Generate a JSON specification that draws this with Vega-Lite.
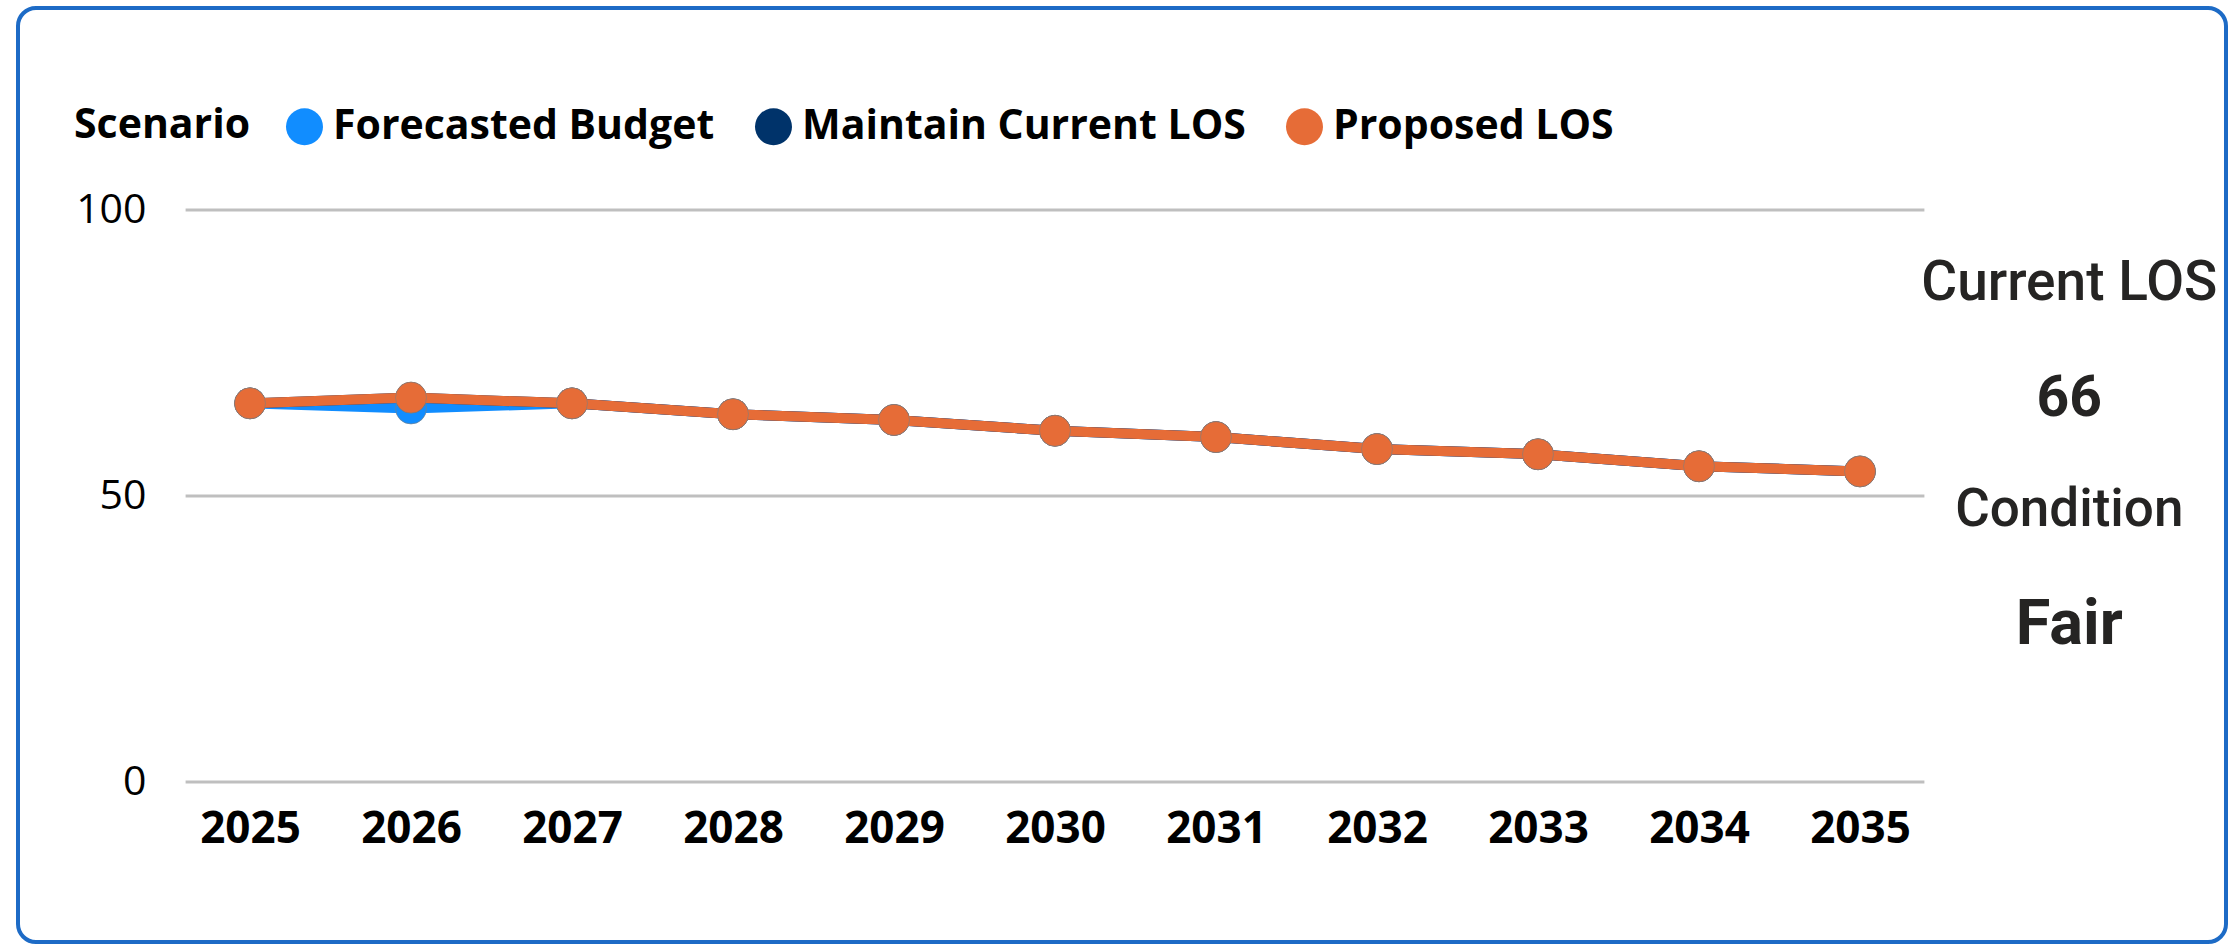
{
  "$schema": "https://vega.github.io/schema/vega-lite/v6.json",
  "width": 2208,
  "height": 934,
  "autosize": "none",
  "padding": {"left": 18, "top": 8, "right": 2, "bottom": 3},
  "background": "white",
  "config": {
    "view": {"stroke": "#1D6BC6", "strokeWidth": 4, "cornerRadius": 18}
  },
  "datasets": {
    "los": [
      {"year": 2025, "series": "Forecasted Budget", "value": 66.2},
      {"year": 2026, "series": "Forecasted Budget", "value": 65.3},
      {"year": 2027, "series": "Forecasted Budget", "value": 66.2},
      {"year": 2028, "series": "Forecasted Budget", "value": 64.3},
      {"year": 2029, "series": "Forecasted Budget", "value": 63.3},
      {"year": 2030, "series": "Forecasted Budget", "value": 61.4},
      {"year": 2031, "series": "Forecasted Budget", "value": 60.3},
      {"year": 2032, "series": "Forecasted Budget", "value": 58.2},
      {"year": 2033, "series": "Forecasted Budget", "value": 57.3},
      {"year": 2034, "series": "Forecasted Budget", "value": 55.2},
      {"year": 2035, "series": "Forecasted Budget", "value": 54.3},
      {"year": 2025, "series": "Maintain Current LOS", "value": 66.2},
      {"year": 2026, "series": "Maintain Current LOS", "value": 67.2},
      {"year": 2027, "series": "Maintain Current LOS", "value": 66.2},
      {"year": 2028, "series": "Maintain Current LOS", "value": 64.3},
      {"year": 2029, "series": "Maintain Current LOS", "value": 63.3},
      {"year": 2030, "series": "Maintain Current LOS", "value": 61.4},
      {"year": 2031, "series": "Maintain Current LOS", "value": 60.3},
      {"year": 2032, "series": "Maintain Current LOS", "value": 58.2},
      {"year": 2033, "series": "Maintain Current LOS", "value": 57.3},
      {"year": 2034, "series": "Maintain Current LOS", "value": 55.2},
      {"year": 2035, "series": "Maintain Current LOS", "value": 54.3},
      {"year": 2025, "series": "Proposed LOS", "value": 66.2},
      {"year": 2026, "series": "Proposed LOS", "value": 67.2},
      {"year": 2027, "series": "Proposed LOS", "value": 66.2},
      {"year": 2028, "series": "Proposed LOS", "value": 64.3},
      {"year": 2029, "series": "Proposed LOS", "value": 63.3},
      {"year": 2030, "series": "Proposed LOS", "value": 61.4},
      {"year": 2031, "series": "Proposed LOS", "value": 60.3},
      {"year": 2032, "series": "Proposed LOS", "value": 58.2},
      {"year": 2033, "series": "Proposed LOS", "value": 57.3},
      {"year": 2034, "series": "Proposed LOS", "value": 55.2},
      {"year": 2035, "series": "Proposed LOS", "value": 54.3}
    ],
    "grid": [{"v": 0}, {"v": 50}, {"v": 100}]
  },
  "data": {"name": "los"},
  "layer": [
    {
      "data": {"name": "grid"},
      "mark": {"type": "rule", "color": "#BFBFBF", "strokeWidth": 3},
      "encoding": {
        "y": {
          "field": "v", "type": "quantitative",
          "scale": {"domain": [0, 100], "range": [774, 202], "nice": false, "zero": false},
          "axis": {
            "values": [0, 50, 100], "title": null, "grid": false, "domain": false,
            "ticks": false, "tickSize": 0, "labelPadding": 0, "offset": -128,
            "labelFont": "Open Sans", "labelFontSize": 41, "labelColor": "#000000",
            "labelAlign": "right", "labelBaseline": "middle"
          }
        },
        "x": {"datum": 2024.6, "type": "quantitative", "title": null,
              "scale": {"domain": [2025, 2035], "range": [232, 1842], "nice": false, "zero": false}},
        "x2": {"datum": 2035.4}
      }
    },
    {
      "transform": [{"filter": "datum.series == 'Forecasted Budget'"}],
      "encoding": {
        "x": {"field": "year", "type": "quantitative", "title": null,
              "scale": {"domain": [2025, 2035], "range": [232, 1842], "nice": false, "zero": false},
              "axis": {
                "values": [2025, 2026, 2027, 2028, 2029, 2030, 2031, 2032, 2033, 2034, 2035],
                "format": "d", "title": null, "grid": false, "domain": false, "ticks": false,
                "tickSize": 0, "labelPadding": 0, "offset": -113, "labelBaseline": "middle",
                "labelFlush": false, "labelOverlap": false,
                "labelFont": "Open Sans", "labelFontSize": 44, "labelFontWeight": "bold", "labelColor": "#000000"
              }},
        "y": {"field": "value", "type": "quantitative"},
        "color": {
          "field": "series", "type": "nominal",
          "scale": {"domain": ["Forecasted Budget", "Maintain Current LOS", "Proposed LOS"],
                    "range": ["#118DFF", "#00336A", "#E66C37"]},
          "legend": {
            "title": "Scenario", "orient": "none", "legendX": 56, "legendY": 98,
            "direction": "horizontal", "titleOrient": "left", "titleLimit": 1000,
            "titleFont": "Open Sans", "titleFontSize": 41, "titleFontWeight": "bold", "titleColor": "#000000",
            "titlePadding": 33, "titleBaseline": "middle",
            "labelFont": "Open Sans", "labelFontSize": 41, "labelFontWeight": "bold", "labelColor": "#000000",
            "labelOffset": 8, "columnPadding": 38, "symbolType": "circle", "symbolSize": 1369,
            "symbolStrokeWidth": 0, "labelLimit": 1000,
            "encode": {"symbols": {"update": {"fill": {"scale": "color", "field": "value"}, "strokeWidth": {"value": 0}, "opacity": {"value": 1}}}}
          }
        }
      },
      "layer": [
        {"mark": {"type": "line", "strokeWidth": 10}},
        {"mark": {"type": "point", "filled": true, "size": 961, "opacity": 1, "stroke": "#7f7f7f", "strokeWidth": 1, "strokeOpacity": 0.6}}
      ]
    },
    {
      "transform": [{"filter": "datum.series == 'Maintain Current LOS'"}],
      "encoding": {
        "x": {"field": "year", "type": "quantitative"},
        "y": {"field": "value", "type": "quantitative"},
        "color": {"field": "series", "type": "nominal"}
      },
      "layer": [
        {"mark": {"type": "line", "strokeWidth": 10}},
        {"mark": {"type": "point", "filled": true, "size": 961, "opacity": 1, "stroke": "#7f7f7f", "strokeWidth": 1, "strokeOpacity": 0.6}}
      ]
    },
    {
      "transform": [{"filter": "datum.series == 'Proposed LOS'"}],
      "encoding": {
        "x": {"field": "year", "type": "quantitative"},
        "y": {"field": "value", "type": "quantitative"},
        "color": {"field": "series", "type": "nominal"}
      },
      "layer": [
        {"mark": {"type": "line", "strokeWidth": 10}},
        {"mark": {"type": "point", "filled": true, "size": 961, "opacity": 1, "stroke": "#7f7f7f", "strokeWidth": 1, "strokeOpacity": 0.6}}
      ]
    },
    {
      "data": {"values": [{"label": "Current LOS"}]},
      "mark": {"type": "text", "font": "Roboto", "fontSize": 55, "fontWeight": 500, "color": "#252423", "align": "center", "baseline": "middle"},
      "encoding": {
        "text": {"field": "label"},
        "x": {"datum": 2036.3, "type": "quantitative"},
        "y": {"datum": 87.2, "type": "quantitative"}
      }
    },
    {
      "data": {"values": [{"label": "66"}]},
      "mark": {"type": "text", "font": "Roboto", "fontSize": 57, "fontWeight": "bold", "color": "#252423", "align": "center", "baseline": "middle"},
      "encoding": {
        "text": {"field": "label"},
        "x": {"datum": 2036.3, "type": "quantitative"},
        "y": {"datum": 67.0, "type": "quantitative"}
      }
    },
    {
      "data": {"values": [{"label": "Condition"}]},
      "mark": {"type": "text", "font": "Roboto", "fontSize": 53, "fontWeight": 500, "color": "#252423", "align": "center", "baseline": "middle"},
      "encoding": {
        "text": {"field": "label"},
        "x": {"datum": 2036.3, "type": "quantitative"},
        "y": {"datum": 47.5, "type": "quantitative"}
      }
    },
    {
      "data": {"values": [{"label": "Fair"}]},
      "mark": {"type": "text", "font": "Roboto", "fontSize": 63, "fontWeight": "bold", "color": "#252423", "align": "center", "baseline": "middle"},
      "encoding": {
        "text": {"field": "label"},
        "x": {"datum": 2036.3, "type": "quantitative"},
        "y": {"datum": 27.4, "type": "quantitative"}
      }
    }
  ]
}
